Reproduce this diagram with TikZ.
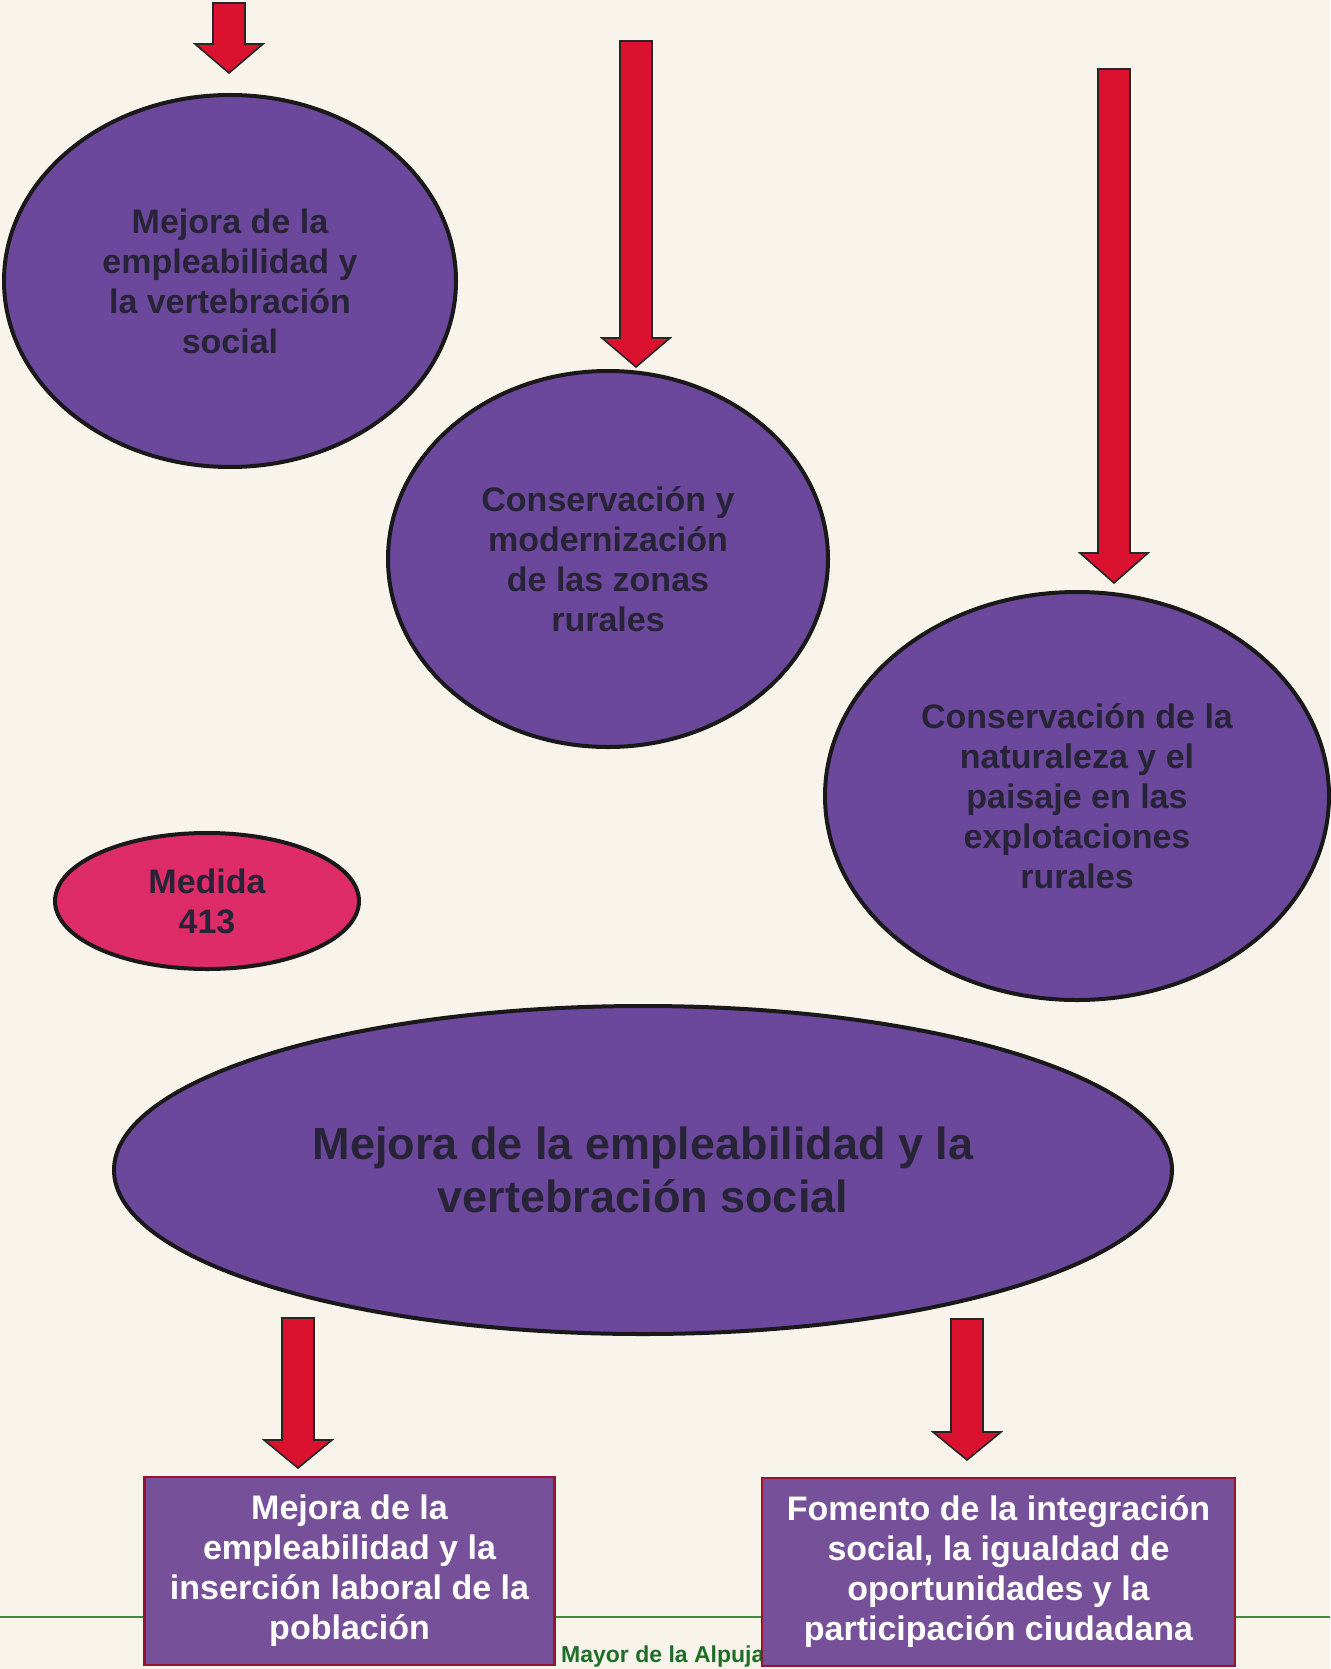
\documentclass[tikz,border=0pt]{standalone}
\usepackage{fontspec}
\setmainfont{Liberation Sans}
\usetikzlibrary{shapes.geometric,calc}
\definecolor{bgcream}{RGB}{248,244,236}
\definecolor{purp}{RGB}{108,72,156}
\definecolor{boxpurp}{RGB}{118,80,152}
\definecolor{boxedge}{RGB}{150,20,50}
\definecolor{txtdark}{RGB}{40,36,56}
\definecolor{pinkfill}{RGB}{222,44,104}
\definecolor{arrred}{RGB}{218,18,48}
\definecolor{linegreen}{RGB}{60,140,60}
\definecolor{textgreen}{RGB}{30,110,40}
\tikzset{
  oval/.style={ellipse, draw=black!90, line width=4pt, fill=purp, text=txtdark,
    align=center, inner sep=0pt, font=\bfseries\fontsize{34}{40}\selectfont},
  bigoval/.style={oval, font=\bfseries\fontsize{45}{53}\selectfont},
  pinkoval/.style={oval, fill=pinkfill},
  goalbox/.style={rectangle, draw=boxedge, line width=2.5pt, fill=boxpurp, text=white,
    align=center, inner sep=0pt, font=\bfseries\fontsize{34}{40}\selectfont},
  barrow/.style={fill=arrred, draw=black!85, line width=1.6pt, line join=miter}
}
\newcommand{\blockarr}[3]{%
  \draw[barrow] ($(#1)+(-16,0)$) -- ($(#1)+(16,0)$) -- ($(#2)+(16,-#3)$) -- ($(#2)+(34,-#3)$)
    -- (#2) -- ($(#2)+(-34,-#3)$) -- ($(#2)+(-16,-#3)$) -- cycle;}
\begin{document}
\begin{tikzpicture}[x=1pt,y=-1pt]
\fill[bgcream] (0,0) rectangle (1330,1669);
\useasboundingbox (0,0) rectangle (1330,1669);

% top ellipses
\node[oval, minimum width=452, minimum height=372] (e1) at (230,281)
  {Mejora de la\\empleabilidad y\\la vertebración\\social};
\node[oval, minimum width=440, minimum height=376] (e2) at (608,559)
  {Conservación y\\modernización\\de las zonas\\rurales};
\node[oval, minimum width=504, minimum height=408] (e3) at (1077,796)
  {Conservación de la\\naturaleza y el\\paisaje en las\\explotaciones\\rurales};
\node[pinkoval, minimum width=304, minimum height=136] (m413) at (207,901)
  {Medida\\413};
\node[bigoval, minimum width=1058, minimum height=328] (big) at (643,1170)
  {Mejora de la empleabilidad y la\\vertebración social};

% arrows
\coordinate (a1t) at (229,3);    \coordinate (a1p) at (229,73);
\coordinate (a2t) at (636,41);   \coordinate (a2p) at (636,367);
\coordinate (a3t) at (1114,69);  \coordinate (a3p) at (1114,583);
\coordinate (a4t) at (298,1318); \coordinate (a4p) at (298,1468);
\coordinate (a5t) at (967,1319); \coordinate (a5p) at (967,1460);
\blockarr{a1t}{a1p}{29}
\blockarr{a2t}{a2p}{29}
\blockarr{a3t}{a3p}{30}
\blockarr{a4t}{a4p}{28}
\blockarr{a5t}{a5p}{28}

% footer line and text
\coordinate (gl) at (0,1617); \coordinate (gr) at (1330,1617);
\draw[linegreen, line width=2.5pt] (gl) -- (gr);
\node[anchor=west, text=textgreen, font=\bfseries\fontsize{23}{26}\selectfont, inner sep=0pt]
  (foot) at (561,1657) {Mayor de la Alpuja};

% bottom boxes
\node[goalbox, minimum width=410, minimum height=188] (b1) at (349.5,1571)
  {Mejora de la\\empleabilidad y la\\inserción laboral de la\\población};
\node[goalbox, minimum width=473, minimum height=188] (b2) at (998.5,1572)
  {Fomento de la integración\\social, la igualdad de\\oportunidades y la\\participación ciudadana};
\end{tikzpicture}
\end{document}
